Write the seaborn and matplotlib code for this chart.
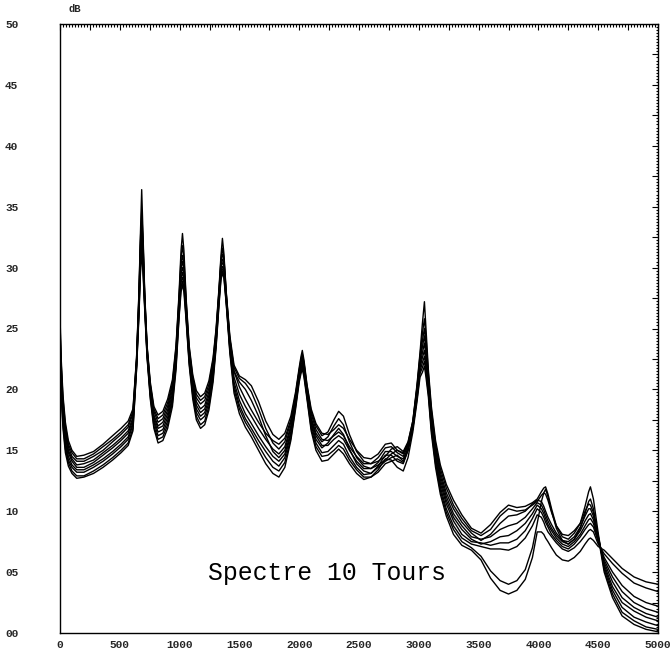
import numpy as np
import pandas as pd
import matplotlib
matplotlib.use("Agg")
import matplotlib.pyplot as plt
import seaborn as sns
from matplotlib.ticker import MultipleLocator, FuncFormatter

# Frequency grid (Hz) shared by all spectra
freq = [0, 10, 25, 45, 70, 100, 140, 200, 280, 360, 440, 510, 570, 610,
        640, 660, 672, 683, 694, 708, 728, 755,
        785, 820, 860, 900, 940,
        970, 995, 1012, 1024, 1036, 1055, 1080, 1110,
        1140, 1175, 1210, 1245, 1280,
        1305, 1330, 1346, 1358, 1370, 1390, 1420, 1455,
        1500, 1550, 1600, 1660, 1720, 1780, 1830, 1880,
        1930, 1970, 2000, 2015, 2026, 2040, 2065, 2100,
        2140, 2190, 2240, 2290, 2330, 2370, 2420, 2480, 2540, 2600, 2660,
        2720, 2770, 2820, 2870, 2910, 2950,
        2985, 3010, 3030, 3047, 3060, 3080, 3105, 3140,
        3180, 3230, 3290, 3360, 3440,
        3520, 3600, 3680, 3750, 3820, 3890, 3950, 3990,
        4025, 4045, 4060, 4080, 4110, 4150,
        4200, 4250, 4300,
        4350, 4390, 4420, 4435, 4460, 4500,
        4550, 4620, 4700, 4800, 4900, 5000]

# Spectrum levels (dB), one list per revolution
spec_a = [26.0, 22.5, 19.5, 17.3, 15.8, 15.0, 14.5, 14.6, 14.9, 15.5, 16.2, 16.8, 17.4, 18.4,
          22.6, 28.0, 32.6, 36.4, 32.8, 28.0, 23.6, 20.6,
          18.6, 17.9, 18.2, 19.2, 20.8,
          23.6, 27.8, 31.4, 32.8, 31.4, 27.4, 23.6, 21.2,
          19.9, 19.4, 19.7, 20.7, 22.6,
          25.0, 28.4, 31.0, 32.4, 31.2, 28.0, 24.4, 22.0,
          21.1, 20.8, 20.3, 19.0, 17.4, 16.3, 15.9, 16.4,
          17.8, 19.8, 21.8, 22.7, 23.2, 22.4, 20.4, 18.4,
          17.2, 16.4, 16.3, 16.7, 17.1, 16.8, 15.9, 15.0, 14.4, 14.3, 14.7,
          15.5, 15.6, 15.0, 14.8, 15.6, 17.4,
          20.4, 23.0, 25.4, 27.2, 25.0, 21.6, 18.6, 15.8,
          13.8, 12.2, 10.9, 9.7, 8.6,
          8.2, 8.9, 9.9, 10.5, 10.3, 10.4, 10.7, 11.0,
          11.6, 11.9, 12.0, 11.4, 10.2, 8.8,
          7.9, 7.7, 8.2,
          9.0, 10.4, 11.6, 12.0, 11.0, 8.2,
          5.2, 3.2, 1.7, 1.0, 0.5, 0.3]
spec_b = [25.5, 22.1, 19.2, 17.0, 15.5, 14.8, 14.3, 14.3, 14.7, 15.3, 15.9, 16.5, 17.1, 18.2,
          22.5, 27.8, 32.2, 34.6, 32.4, 27.8, 23.5, 20.4,
          18.4, 17.6, 17.9, 18.9, 20.5,
          23.4, 27.5, 30.8, 31.8, 30.8, 27.2, 23.4, 21.0,
          19.6, 19.1, 19.4, 20.4, 22.4,
          24.8, 28.2, 30.7, 31.6, 30.9, 27.9, 24.2, 21.5,
          20.2, 19.2, 18.3, 17.3, 16.4, 15.8, 15.5, 16.0,
          17.5, 19.6, 21.6, 22.5, 22.9, 22.2, 20.3, 18.2,
          17.0, 16.2, 16.5, 17.5, 18.2, 17.8, 16.3, 14.9, 14.1, 13.9, 14.1,
          14.5, 15.1, 15.3, 14.9, 15.7, 17.4,
          20.2, 22.8, 24.6, 25.8, 24.3, 21.3, 18.3, 15.5,
          13.5, 11.9, 10.5, 9.4, 8.4,
          8.0, 8.5, 9.6, 10.2, 10.0, 10.1, 10.5, 10.8,
          11.3, 11.5, 11.4, 10.9, 9.9, 8.8,
          8.1, 8.0, 8.4,
          9.0, 10.0, 10.6, 10.5, 9.9, 8.0,
          5.4, 3.5, 2.1, 1.3, 0.9, 0.6]
spec_c = [25.0, 21.8, 18.8, 16.7, 15.3, 14.5, 14.1, 14.1, 14.5, 15.0, 15.7, 16.3, 16.9, 18.0,
          22.4, 27.5, 31.8, 33.9, 32.0, 27.7, 23.4, 20.3,
          18.2, 17.3, 17.6, 18.6, 20.3,
          23.1, 27.3, 30.3, 31.0, 30.3, 26.9, 23.2, 20.7,
          19.3, 18.8, 19.1, 20.1, 22.1,
          24.6, 28.1, 30.5, 31.1, 30.7, 27.8, 24.1, 21.8,
          20.9, 20.5, 19.8, 18.4, 16.8, 15.6, 15.1, 15.7,
          17.3, 19.5, 21.5, 22.3, 22.7, 22.1, 20.1, 18.0,
          16.7, 15.9, 15.8, 16.2, 16.5, 16.2, 15.3, 14.5, 13.9, 13.9, 14.4,
          15.2, 15.3, 14.8, 14.5, 15.4, 17.2,
          20.1, 22.5, 24.0, 25.0, 23.7, 21.0, 18.1, 15.3,
          13.2, 11.5, 10.2, 9.1, 8.2,
          7.6, 8.1, 9.0, 9.6, 9.7, 10.0, 10.6, 10.9,
          10.8, 10.4, 10.0, 9.5, 8.9, 8.2,
          7.6, 7.5, 7.9,
          8.7, 9.6, 10.2, 10.2, 9.6, 7.9,
          5.6, 3.8, 2.5, 1.8, 1.3, 1.0]
spec_d = [24.5, 21.4, 18.5, 16.4, 15.0, 14.3, 13.8, 13.9, 14.2, 14.8, 15.4, 16.0, 16.6, 17.7,
          22.2, 27.3, 31.4, 33.4, 31.6, 27.5, 23.2, 20.1,
          17.9, 17.0, 17.3, 18.3, 20.0,
          22.9, 27.0, 29.9, 30.5, 29.9, 26.7, 23.0, 20.5,
          19.0, 18.4, 18.7, 19.8, 21.9,
          24.4, 27.9, 30.2, 30.7, 30.4, 27.6, 23.9, 21.0,
          19.6, 18.6, 17.8, 16.8, 15.9, 15.1, 14.7, 15.3,
          17.0, 19.3, 21.3, 22.2, 22.5, 21.9, 20.0, 17.7,
          16.4, 15.7, 16.1, 17.0, 17.6, 17.1, 15.7, 14.4, 13.7, 13.5, 13.8,
          14.2, 14.7, 15.0, 14.7, 15.5, 17.2,
          19.9, 22.3, 23.5, 24.4, 23.2, 20.8, 17.8, 15.0,
          12.9, 11.2, 9.8, 8.8, 7.9,
          7.7, 7.9, 8.5, 8.8, 9.0, 9.5, 10.2, 10.7,
          10.5, 10.1, 9.7, 9.2, 8.6, 8.0,
          7.5, 7.3, 7.7,
          8.4, 9.2, 9.7, 9.8, 9.3, 7.7,
          5.8, 4.2, 2.9, 2.1, 1.6, 1.3]
spec_e = [24.0, 21.0, 18.2, 16.1, 14.8, 14.1, 13.6, 13.6, 14.0, 14.6, 15.2, 15.8, 16.4, 17.5,
          22.1, 27.0, 31.0, 33.0, 31.2, 27.3, 23.1, 19.9,
          17.7, 16.8, 17.0, 18.0, 19.7,
          22.6, 26.8, 29.5, 30.0, 29.5, 26.5, 22.8, 20.2,
          18.7, 18.1, 18.4, 19.5, 21.6,
          24.2, 27.7, 30.0, 30.4, 30.2, 27.5, 23.7, 21.5,
          20.6, 20.0, 19.1, 17.8, 16.2, 14.9, 14.4, 15.0,
          16.8, 19.1, 21.2, 22.0, 22.3, 21.7, 19.8, 17.5,
          16.2, 15.4, 15.4, 15.9, 16.2, 15.9, 15.0, 14.1, 13.5, 13.5, 14.0,
          14.9, 14.9, 14.5, 14.3, 15.2, 17.0,
          19.7, 22.0, 23.0, 23.8, 22.7, 20.5, 17.5, 14.7,
          12.6, 10.9, 9.5, 8.5, 7.7,
          7.3, 7.5, 7.9, 8.0, 8.4, 9.0, 9.8, 10.5,
          10.2, 9.8, 9.4, 8.9, 8.4, 7.8,
          7.3, 7.1, 7.5,
          8.1, 8.8, 9.3, 9.4, 9.0, 7.6,
          6.0, 4.6, 3.4, 2.5, 2.0, 1.7]
spec_f = [23.5, 20.6, 17.8, 15.7, 14.5, 13.8, 13.4, 13.4, 13.8, 14.3, 14.9, 15.5, 16.1, 17.3,
          22.0, 26.8, 30.6, 32.6, 30.8, 27.1, 23.0, 19.7,
          17.5, 16.5, 16.7, 17.7, 19.4,
          22.4, 26.5, 29.1, 29.6, 29.1, 26.3, 22.6, 20.0,
          18.4, 17.8, 18.1, 19.2, 21.4,
          24.0, 27.5, 29.7, 30.1, 29.9, 27.4, 23.5, 20.6,
          19.1, 18.0, 17.2, 16.2, 15.3, 14.5, 14.1, 14.7,
          16.5, 18.9, 21.1, 21.8, 22.1, 21.5, 19.7, 17.3,
          15.9, 15.2, 15.6, 16.3, 16.8, 16.3, 15.1, 13.9, 13.3, 13.1, 13.6,
          14.1, 14.4, 14.6, 14.1, 15.1, 16.9,
          19.5, 21.8, 22.6, 23.2, 22.2, 20.2, 17.2, 14.4,
          12.3, 10.6, 9.2, 8.1, 7.5,
          7.4, 7.2, 7.4, 7.4, 7.7, 8.4, 9.4, 10.2,
          9.9, 9.5, 9.1, 8.7, 8.1, 7.6,
          7.1, 6.9, 7.3,
          7.9, 8.5, 8.9, 9.0, 8.7, 7.5,
          6.2, 5.0, 3.9, 3.0, 2.5, 2.2]
spec_g = [23.0, 20.3, 17.5, 15.4, 14.2, 13.6, 13.2, 13.2, 13.6, 14.1, 14.7, 15.3, 15.9, 17.1,
          21.9, 26.5, 30.2, 32.2, 30.4, 27.0, 22.9, 19.6,
          17.3, 16.2, 16.4, 17.4, 19.2,
          22.1, 26.3, 28.8, 29.2, 28.8, 26.0, 22.4, 19.7,
          18.1, 17.5, 17.8, 18.9, 21.1,
          23.8, 27.4, 29.5, 29.9, 29.7, 27.3, 23.4, 20.3,
          18.7, 17.6, 16.8, 15.8, 14.9, 14.1, 13.7, 14.4,
          16.3, 18.8, 20.9, 21.7, 22.0, 21.4, 19.5, 17.1,
          15.6, 14.8, 14.9, 15.4, 15.8, 15.5, 14.5, 13.6, 13.0, 13.1, 13.7,
          14.6, 14.6, 14.1, 13.9, 15.0, 16.8,
          19.4, 21.5, 22.2, 22.7, 21.8, 19.9, 16.9, 14.1,
          12.0, 10.2, 8.8, 7.8, 7.3,
          7.1, 6.9, 6.9, 6.8, 7.1, 7.8, 8.8, 9.7,
          9.5, 9.1, 8.7, 8.3, 7.9, 7.4,
          6.9, 6.7, 7.0,
          7.5, 8.0, 8.4, 8.5, 8.3, 7.3,
          6.5, 5.7, 4.9, 4.1, 3.7, 3.4]
spec_h = [22.5, 19.9, 17.1, 15.1, 14.0, 13.3, 12.9, 12.9, 13.3, 13.8, 14.4, 15.0, 15.6, 16.8,
          21.7, 26.3, 29.8, 31.8, 30.0, 26.8, 22.7, 19.4,
          17.0, 15.9, 16.1, 17.1, 18.9,
          21.9, 26.0, 28.4, 28.9, 28.4, 25.8, 22.2, 19.5,
          17.8, 17.1, 17.4, 18.6, 20.9,
          23.6, 27.2, 29.2, 29.7, 29.4, 27.1, 23.2, 20.0,
          18.4, 17.3, 16.5, 15.4, 14.4, 13.6, 13.3, 14.0,
          16.0, 18.6, 20.8, 21.5, 21.8, 21.2, 19.4, 16.8,
          15.3, 14.5, 14.6, 15.0, 15.4, 15.1, 14.2, 13.4, 12.8, 12.8, 13.2,
          13.9, 14.1, 14.3, 14.0, 15.0, 16.8,
          19.2, 21.3, 21.8, 22.3, 21.4, 19.7, 16.7, 13.9,
          11.7, 9.9, 8.5, 7.5, 7.0,
          6.3, 5.1, 4.3, 4.0, 4.3, 5.2, 7.0, 9.0,
          10.8, 11.5, 11.8, 11.2, 10.0, 8.6,
          7.6, 7.3, 7.7,
          8.6, 9.8, 10.8, 11.0, 10.2, 7.9,
          5.0, 2.9, 1.4, 0.7, 0.3, 0.1]
spec_i = [22.0, 19.5, 16.8, 14.8, 13.7, 13.1, 12.7, 12.8, 13.1, 13.6, 14.2, 14.8, 15.4, 16.6,
          21.6, 26.0, 29.4, 31.3, 29.6, 26.6, 22.6, 19.2,
          16.8, 15.6, 15.8, 16.8, 18.6,
          21.6, 25.8, 28.0, 28.6, 28.0, 25.6, 22.0, 19.2,
          17.5, 16.8, 17.1, 18.3, 20.6,
          23.4, 27.0, 29.0, 29.5, 29.2, 27.0, 23.0, 19.7,
          18.0, 16.9, 16.1, 15.0, 13.9, 13.1, 12.8, 13.6,
          15.8, 18.4, 20.6, 21.3, 21.7, 21.0, 19.2, 16.6,
          15.0, 14.1, 14.2, 14.7, 15.1, 14.7, 13.9, 13.1, 12.6, 12.8, 13.4,
          14.3, 14.2, 13.6, 13.3, 14.4, 16.5,
          19.0, 21.0, 21.4, 21.9, 21.0, 19.4, 16.4, 13.6,
          11.4, 9.6, 8.1, 7.2, 6.8,
          6.0, 4.5, 3.5, 3.2, 3.5, 4.4, 6.2, 8.3,
          8.3, 8.1, 7.8, 7.5, 7.0, 6.4,
          6.0, 5.9, 6.2,
          6.7, 7.3, 7.7, 7.8, 7.6, 7.1,
          6.8, 6.1, 5.3, 4.6, 4.2, 4.0]

spectra = {"a": spec_a, "b": spec_b, "c": spec_c, "d": spec_d, "e": spec_e,
           "f": spec_f, "g": spec_g, "h": spec_h, "i": spec_i}
for k, v in spectra.items():
    assert len(v) == len(freq), (k, len(v), len(freq))

title_text = "Spectre 10 Tours"
y_unit = "dB"

df = pd.DataFrame({
    "freq": np.tile(freq, len(spectra)),
    "db": np.concatenate([spectra[k] for k in spectra]),
    "tour": np.repeat(list(spectra.keys()), len(freq)),
})

sns.set_style("white")
plt.rcParams["font.family"] = ["Liberation Mono", "DejaVu Sans Mono"]

fig = plt.figure(figsize=(6.7, 6.56), dpi=100)
ax = fig.add_axes([60 / 670, 23 / 656, 598 / 670, 609 / 656])

sns.lineplot(data=df, x="freq", y="db", units="tour", estimator=None,
             color="black", linewidth=1.0, ax=ax, legend=False)

ax.set_xlim(0, 5000)
ax.set_ylim(0, 50)
ax.set_xlabel("")
ax.set_ylabel("")
ax.xaxis.set_major_locator(MultipleLocator(250))
ax.xaxis.set_minor_locator(MultipleLocator(25))
ax.yaxis.set_major_locator(MultipleLocator(2.5))
ax.yaxis.set_minor_locator(MultipleLocator(0.25))


def fmt_y(v, p):
    r = int(round(v))
    return f"{r:02d}" if abs(v - r) < 1e-6 and r % 5 == 0 else ""


def fmt_x(v, p):
    r = int(round(v))
    return f"{r}" if r % 500 == 0 else ""


ax.yaxis.set_major_formatter(FuncFormatter(fmt_y))
ax.xaxis.set_major_formatter(FuncFormatter(fmt_x))

ax.tick_params(which="both", direction="in", top=True, right=True,
               color="black", width=0.8)
ax.tick_params(which="major", length=4)
ax.tick_params(which="minor", length=1.8)
ax.tick_params(axis="y", pad=30, labelsize=8)
ax.tick_params(axis="x", pad=5, labelsize=8)
for lab in ax.get_xticklabels() + ax.get_yticklabels():
    lab.set_fontweight("bold")

for s in ax.spines.values():
    s.set_linewidth(1.0)
    s.set_color("black")

ax.text(2230, 4.9, title_text, fontsize=17.8, ha="center", va="center",
        color="black")
fig.text(75 / 670, 1 - 9 / 656, y_unit, fontsize=7.5, ha="center",
         va="center", fontweight="bold")

fig.savefig("out.png", dpi=100)
